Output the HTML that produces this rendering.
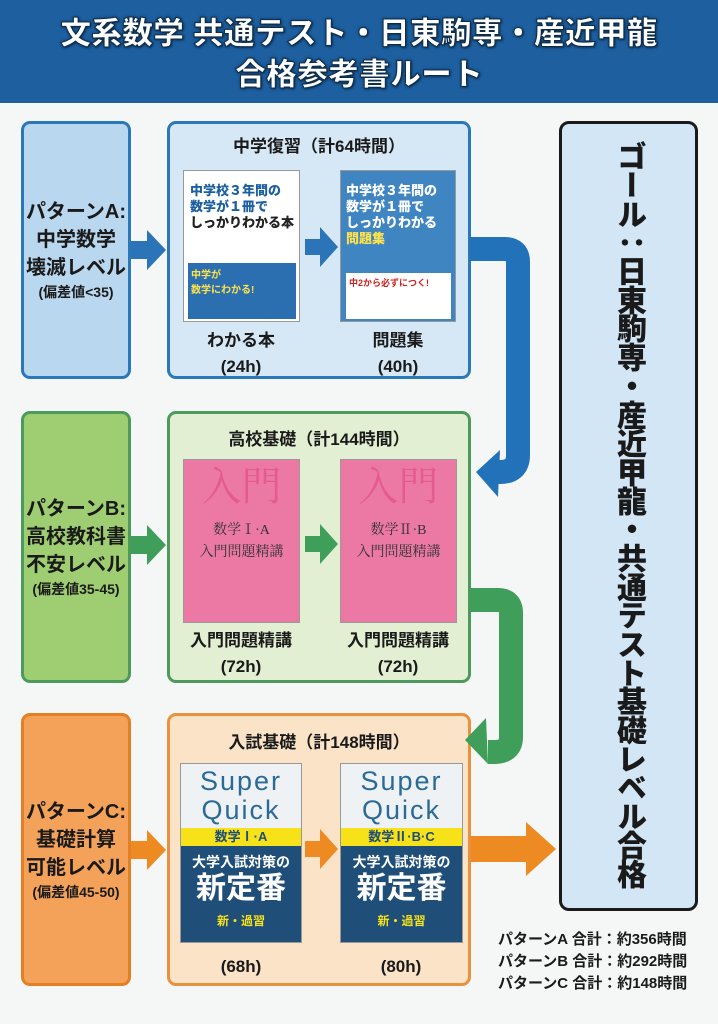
<!DOCTYPE html>
<html><head><meta charset="utf-8">
<style>
*{margin:0;padding:0;box-sizing:border-box}
body{width:718px;height:1024px;background:#f5f6f6;position:relative;overflow:hidden;font-family:"Liberation Sans","Noto Sans CJK JP",sans-serif;font-weight:bold;color:#1a1a1a}
.a{position:absolute}
.hdr{left:0;top:0;width:718px;height:103px;background:#1d5f9f}
.t{left:0;width:718px;text-align:center;color:#fff;font-size:31px;font-weight:900;-webkit-text-stroke:1px #0d2c4a;text-shadow:0 0 3px #0d2c4a,1px 1px 2px #0d2c4a}
.box{border-radius:9px;border:3px solid}
.lt{display:flex;flex-direction:column;justify-content:center;align-items:center;text-align:center;font-size:20px;line-height:28px}
.lt small{font-size:14px;line-height:20px}
.ttl{text-align:center;font-size:17px}
.lbl{text-align:center;font-size:17px;line-height:26px;width:140px}
.bk{border:1px solid #999;overflow:hidden}
.g{position:absolute;left:596px;width:64px;display:flex;flex-direction:column;align-items:center}
.g div{height:28.7px;flex:none;width:40px;writing-mode:vertical-rl;font-size:30px;line-height:40px;font-weight:900;overflow:visible;white-space:nowrap;display:flex;align-items:center;justify-content:center}
</style></head><body>
<div class="a hdr"></div>
<div class="a t" style="top:14px;line-height:40px">文系数学 共通テスト・日東駒専・産近甲龍</div>
<div class="a t" style="top:55px;line-height:40px">合格参考書ルート</div>

<div class="a box lt" style="left:21px;top:121px;width:110px;height:258px;background:#b9d7ee;border-color:#2b78b8">パターンA:<br>中学数学<br>壊滅レベル<small>(偏差値&lt;35)</small></div>
<div class="a box lt" style="left:21px;top:411px;width:110px;height:272px;background:#9ece71;border-color:#4c9a5c">パターンB:<br>高校教科書<br>不安レベル<small>(偏差値35-45)</small></div>
<div class="a box lt" style="left:21px;top:713px;width:110px;height:273px;background:#f4a259;border-color:#e57f25">パターンC:<br>基礎計算<br>可能レベル<small>(偏差値45-50)</small></div>

<div class="a box" style="left:167px;top:121px;width:304px;height:258px;background:#d6e8f5;border-color:#2b78b8"></div>
<div class="a box" style="left:167px;top:411px;width:304px;height:272px;background:#e2efd2;border-color:#4c9a5c"></div>
<div class="a box" style="left:167px;top:713px;width:304px;height:273px;background:#fbe3c8;border-color:#e8913f"></div>
<div class="a ttl" style="left:167px;top:132px;width:304px">中学復習（計64時間）</div>
<div class="a ttl" style="left:167px;top:425px;width:304px">高校基礎（計144時間）</div>
<div class="a ttl" style="left:167px;top:728px;width:304px">入試基礎（計148時間）</div>

<div class="a bk" style="left:183px;top:170px;width:117px;height:152px;background:#fff">
 <div style="position:absolute;left:6px;top:12px;font-size:13px;line-height:16px;color:#1d5f9f;font-weight:900">中学校３年間の<br>数学が１冊で<br><span style="color:#222">しっかりわかる本</span></div>
 <div style="position:absolute;left:4px;top:92px;width:108px;height:56px;background:#2c6fb1;color:#ffe24a;font-size:10px;padding:3px">中学が<br>数学にわかる!</div>
</div>
<div class="a bk" style="left:340px;top:170px;width:116px;height:152px;background:#3f85c2">
 <div style="position:absolute;left:5px;top:12px;font-size:13px;line-height:16px;color:#fff;font-weight:900">中学校３年間の<br>数学が１冊で<br>しっかりわかる<br><span style="color:#ffe24a">問題集</span></div>
 <div style="position:absolute;left:5px;top:102px;width:105px;height:46px;background:#fff;color:#c22;font-size:9px;padding:3px">中2から必ずにつく!</div>
</div>
<div class="a lbl" style="left:171px;top:328px">わかる本<br>(24h)</div>
<div class="a lbl" style="left:328px;top:328px">問題集<br>(40h)</div>

<div class="a bk" style="left:183px;top:459px;width:117px;height:164px;background:#ec79a4;color:#333;font-family:'Liberation Serif','Noto Serif CJK SC',serif;font-weight:normal;text-align:center">
 <div style="font-size:40px;color:#e65b8f;line-height:50px;margin-top:2px">入門</div>
 <div style="font-size:14px;line-height:22px;margin-top:8px">数学Ⅰ·A<br>入門問題精講</div>
</div>
<div class="a bk" style="left:340px;top:459px;width:117px;height:164px;background:#ec79a4;color:#333;font-family:'Liberation Serif','Noto Serif CJK SC',serif;font-weight:normal;text-align:center">
 <div style="font-size:40px;color:#e65b8f;line-height:50px;margin-top:2px">入門</div>
 <div style="font-size:14px;line-height:22px;margin-top:8px">数学Ⅱ·B<br>入門問題精講</div>
</div>
<div class="a lbl" style="left:171px;top:628px">入門問題精講<br>(72h)</div>
<div class="a lbl" style="left:328px;top:628px">入門問題精講<br>(72h)</div>

<div class="a bk" style="left:180px;top:763px;width:122px;height:180px;background:#1f4e79">
 <div style="height:64px;background:#eef2f4;color:#2a6a96;font-weight:normal;font-size:27px;line-height:29px;text-align:center;letter-spacing:2px;padding-top:3px">Super<br>Quick</div>
 <div style="height:18px;background:#f7e21a;color:#1f4e79;font-size:13px;text-align:center;line-height:18px">数学Ⅰ·A</div>
 <div style="color:#fff;text-align:center;font-size:14px;margin-top:6px">大学入試対策の</div>
 <div style="color:#fff;text-align:center;font-size:30px;line-height:34px">新定番</div>
 <div style="color:#f7e21a;text-align:center;font-size:12px;margin-top:6px">新・過習</div>
</div>
<div class="a bk" style="left:340px;top:763px;width:123px;height:180px;background:#1f4e79">
 <div style="height:64px;background:#eef2f4;color:#2a6a96;font-weight:normal;font-size:27px;line-height:29px;text-align:center;letter-spacing:2px;padding-top:3px">Super<br>Quick</div>
 <div style="height:18px;background:#f7e21a;color:#1f4e79;font-size:13px;text-align:center;line-height:18px">数学Ⅱ·B·C</div>
 <div style="color:#fff;text-align:center;font-size:14px;margin-top:6px">大学入試対策の</div>
 <div style="color:#fff;text-align:center;font-size:30px;line-height:34px">新定番</div>
 <div style="color:#f7e21a;text-align:center;font-size:12px;margin-top:6px">新・過習</div>
</div>
<div class="a lbl" style="left:171px;top:954px">(68h)</div>
<div class="a lbl" style="left:331px;top:954px">(80h)</div>

<div class="a" style="left:559px;top:121px;width:139px;height:790px;background:#d3e6f6;border:3px solid #1a1a1a;border-radius:10px"></div>
<div class="g" style="top:142px"><div>ゴ</div><div>ー</div><div>ル</div><div>：</div><div>日</div><div>東</div><div>駒</div><div>専</div><div>・</div><div>産</div><div>近</div><div>甲</div><div>龍</div><div>・</div><div>共</div><div>通</div><div>テ</div><div>ス</div><div>ト</div><div>基</div><div>礎</div><div>レ</div><div>ベ</div><div>ル</div><div>合</div><div>格</div></div>

<div class="a" style="left:498px;top:929px;font-size:15px;line-height:22px">パターンA 合計：約356時間<br>パターンB 合計：約292時間<br>パターンC 合計：約148時間</div>

<svg class="a" style="left:0;top:0" width="718" height="1024">
 <polygon points="131,241 147,241 147,230 166,250 147,270 147,259 131,259" fill="#2b74b8"/>
 <polygon points="131,536 147,536 147,525 166,545 147,565 147,554 131,554" fill="#3f9e5a"/>
 <polygon points="131,841 147,841 147,830 166,850 147,870 147,859 131,859" fill="#ee8a22"/>
 <polygon points="305,239 320,239 320,227 338,247 320,267 320,255 305,255" fill="#2b74b8"/>
 <polygon points="305,536 320,536 320,524 338,544 320,564 320,552 305,552" fill="#3f9e5a"/>
 <polygon points="305,841 320,841 320,829 338,849 320,869 320,857 305,857" fill="#ee8a22"/>
 <path d="M470,249 H505 Q518,249 518,262 V455 Q518,472 500,472 H492" fill="none" stroke="#2172b8" stroke-width="24"/>
 <polygon points="476,472 500,450 498,497" fill="#2172b8"/>
 <path d="M470,600 H498 Q511,600 511,613 V737 Q511,752 494,752 H488" fill="none" stroke="#3f9e5a" stroke-width="24"/>
 <polygon points="465,740 486,718 488,764" fill="#3f9e5a"/>
 <polygon points="471,836 526,836 526,822 556,849 526,876 526,862 471,862" fill="#ee8a22"/>
</svg>
</body></html>
